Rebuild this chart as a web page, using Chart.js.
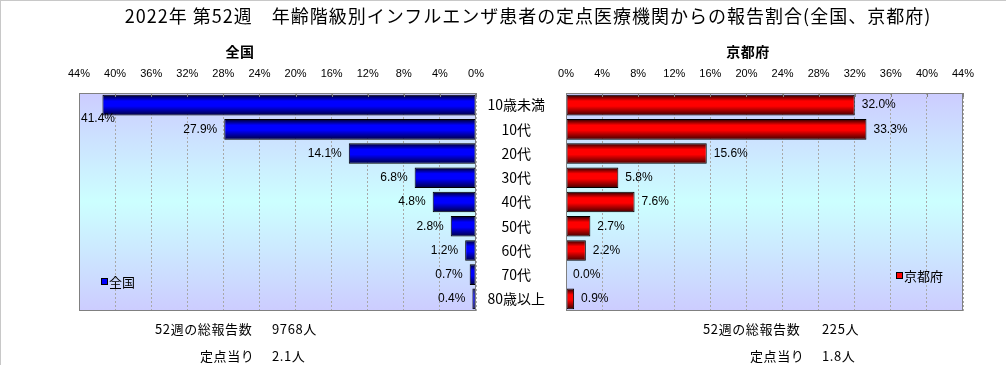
<!DOCTYPE html>
<html lang="ja">
<head>
<meta charset="UTF-8">
<title>年齢階級別インフルエンザ患者の報告割合</title>
<script src="https://cdn.jsdelivr.net/npm/chart.js"></script>
<style>
  body { margin: 0; background: #fff; font-family: 'Noto Sans CJK JP', sans-serif; }
  #wrap { position: relative; width: 1006px; height: 365px; overflow: hidden; }
  #frame { position: absolute; left: 0; top: 0; width: 1006px; height: 365px; box-sizing: border-box;
           border-left: 1px solid #c8c8c8; border-top: 1px solid #c8c8c8; }
  canvas { position: absolute; left: 0; top: 0; }
  .txt { position: absolute; white-space: nowrap; color: #000; line-height: 1; }
  .c { transform: translate(-50%, -50%); }
  .v { transform: translateY(-50%); font-size: 13px; letter-spacing: 0.6px; }
</style>
</head>
<body>
<div id="wrap">
  <div id="frame"></div>
  <canvas id="leftChart" width="1006" height="365"></canvas>
  <canvas id="rightChart" width="1006" height="365"></canvas>

  <div class="txt c" style="left:528px;top:15px;font-size:18px;letter-spacing:1px;">2022年 第52週　年齢階級別インフルエンザ患者の定点医療機関からの報告割合(全国、京都府)</div>
  <div class="txt c" style="left:240px;top:51px;font-size:14px;font-weight:bold;letter-spacing:0.5px;">全国</div>
  <div class="txt c" style="left:748px;top:51px;font-size:14px;font-weight:bold;letter-spacing:0.5px;">京都府</div>

  <div class="txt v" style="left:155px;top:328px;">52週の総報告数</div>
  <div class="txt v" style="left:272px;top:328px;">9768人</div>
  <div class="txt v" style="left:200px;top:355px;">定点当り</div>
  <div class="txt v" style="left:272px;top:355px;">2.1人</div>

  <div class="txt v" style="left:703px;top:328px;">52週の総報告数</div>
  <div class="txt v" style="left:822px;top:328px;">225人</div>
  <div class="txt v" style="left:750px;top:355px;">定点当り</div>
  <div class="txt v" style="left:822px;top:355px;">1.8人</div>
</div>

<script>
  // 年齢階級
  const ageGroups = ['10歳未満', '10代', '20代', '30代', '40代', '50代', '60代', '70代', '80歳以上'];
  // 報告割合 (%)
  const nationalShare = [41.4, 27.9, 14.1, 6.8, 4.8, 2.8, 1.2, 0.7, 0.4];
  const kyotoShare = [32.0, 33.3, 15.6, 5.8, 7.6, 2.7, 2.2, 0.0, 0.9];
  // 横軸 0%〜44%、4%刻み
  const axisMax = 44;
  const axisStep = 4;

  const labelFont = '"Liberation Sans", Arial, sans-serif';
  const cjkFont = '"Noto Sans CJK JP", sans-serif';
  const barPct = 0.85;

  // bars get a rounded (cylinder-like) shade: dark at top/bottom edges
  function barFill(dark, bright, darkBottom) {
    return function (c) {
      const chart = c.chart;
      const y = chart.scales.y;
      if (!chart.chartArea || !y || c.dataIndex === undefined) return bright;
      const center = y.getPixelForValue(c.dataIndex);
      const half = (y.height / ageGroups.length) * barPct / 2;
      const g = chart.ctx.createLinearGradient(0, center - half, 0, center + half);
      g.addColorStop(0, dark);
      g.addColorStop(0.3, bright);
      g.addColorStop(0.55, bright);
      g.addColorStop(1, darkBottom);
      return g;
    };
  }

  const plotDecor = {
    id: 'plotDecor',
    beforeDraw(chart) {
      const a = chart.chartArea;
      const ctx = chart.ctx;
      const g = ctx.createLinearGradient(0, a.top, 0, a.bottom);
      g.addColorStop(0, '#ccccff');
      g.addColorStop(0.5, '#ccffff');
      g.addColorStop(1, '#ccccff');
      ctx.save();
      ctx.fillStyle = g;
      ctx.fillRect(a.left, a.top, a.right - a.left, a.bottom - a.top);
      ctx.restore();
    },
    afterDatasetsDraw(chart, args, opts) {
      const ctx = chart.ctx;
      const a = chart.chartArea;
      const meta = chart.getDatasetMeta(0);
      const values = chart.data.datasets[0].data;
      ctx.save();
      ctx.font = '12px ' + labelFont;
      ctx.fillStyle = '#000';
      ctx.textBaseline = 'middle';
      meta.data.forEach((bar, i) => {
        const text = values[i].toFixed(1) + '%';
        if (opts.side === 'left') {
          if (bar.x - a.left < 40) {
            ctx.textAlign = 'left';
            ctx.fillText(text, a.left + 2, bar.y + 14);
          } else {
            ctx.textAlign = 'right';
            ctx.fillText(text, bar.x - 7, bar.y);
          }
        } else {
          ctx.textAlign = 'left';
          ctx.fillText(text, bar.x + 7, bar.y);
        }
      });
      ctx.restore();
    },
    afterDraw(chart, args, opts) {
      const ctx = chart.ctx;
      const a = chart.chartArea;
      const xs = chart.scales.x;
      ctx.save();
      // short ticks pointing into the plot
      ctx.strokeStyle = '#808080';
      ctx.lineWidth = 1;
      xs.ticks.forEach(t => {
        const px = Math.round(xs.getPixelForValue(t.value)) + 0.5;
        ctx.beginPath();
        ctx.moveTo(px, a.top);
        ctx.lineTo(px, a.top + 4);
        ctx.stroke();
      });
      ctx.strokeRect(a.left + 0.5, a.top + 0.5, a.right - a.left - 1, a.bottom - a.top - 1);

      // legend
      const lg = opts.legend;
      ctx.fillStyle = chart.data.datasets[0].legendColor;
      ctx.fillRect(lg.x, lg.y - 3, 6, 6);
      ctx.strokeStyle = '#000';
      ctx.strokeRect(lg.x + 0.5, lg.y - 3.5, 6, 6);
      ctx.fillStyle = '#000';
      ctx.font = '13px ' + cjkFont;
      ctx.textAlign = 'left';
      ctx.textBaseline = 'middle';
      ctx.fillText(chart.data.datasets[0].label, lg.x + 8, lg.y);
      ctx.restore();
    }
  };

  function xAxis(reverse) {
    return {
      position: 'top',
      min: 0,
      max: axisMax,
      reverse: reverse,
      ticks: {
        stepSize: axisStep,
        autoSkip: false,
        maxRotation: 0,
        padding: 12,
        color: '#000',
        font: { size: 11, family: labelFont },
        callback: v => v + '%'
      },
      grid: { color: '#a8a8a8', drawTicks: false, lineWidth: 1 },
      border: { display: false, dash: [2, 2] },
      afterFit: s => { s.height = 33; }
    };
  }

  new Chart(document.getElementById('leftChart'), {
    type: 'bar',
    data: {
      labels: ageGroups,
      datasets: [{
        label: '全国',
        legendColor: '#0000ff',
        data: nationalShare,
        backgroundColor: barFill('#000022', '#0000ff', '#000040'),
        borderColor: '#000',
        borderWidth: 1,
        borderSkipped: false,
        barPercentage: barPct,
        categoryPercentage: 1
      }]
    },
    options: {
      indexAxis: 'y',
      responsive: false,
      animation: false,
      layout: { padding: { left: 79, right: 530, top: 60, bottom: 54 } },
      scales: {
        x: xAxis(true),
        y: { display: false }
      },
      plugins: {
        legend: { display: false },
        tooltip: { enabled: false },
        plotDecor: { side: 'left', legend: { x: 101, y: 282 } }
      }
    },
    plugins: [plotDecor]
  });

  new Chart(document.getElementById('rightChart'), {
    type: 'bar',
    data: {
      labels: ageGroups,
      datasets: [{
        label: '京都府',
        legendColor: '#ff0000',
        data: kyotoShare,
        backgroundColor: barFill('#220000', '#ff0000', '#400000'),
        borderColor: '#000',
        borderWidth: 1,
        borderSkipped: false,
        barPercentage: barPct,
        categoryPercentage: 1
      }]
    },
    options: {
      indexAxis: 'y',
      responsive: false,
      animation: false,
      layout: { padding: { left: 476, right: 43, top: 60, bottom: 54 } },
      scales: {
        x: xAxis(false),
        y: {
          position: 'left',
          ticks: {
            crossAlign: 'center',
            padding: 13,
            color: '#000',
            font: { size: 14, family: cjkFont }
          },
          grid: { display: false },
          border: { display: false },
          afterFit: s => { s.width = 90; }
        }
      },
      plugins: {
        legend: { display: false },
        tooltip: { enabled: false },
        plotDecor: { side: 'right', legend: { x: 896, y: 276 } }
      }
    },
    plugins: [plotDecor]
  });
</script>
</body>
</html>
